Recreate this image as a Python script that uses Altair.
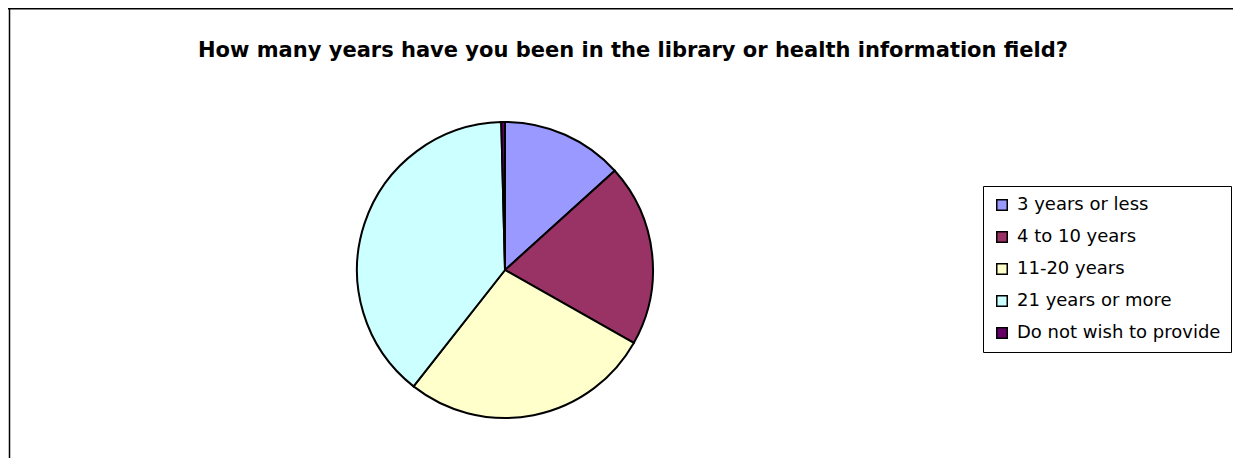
import altair as alt
import pandas as pd

TITLE = "How many years have you been in the library or health information field?"
categories = ["3 years or less", "4 to 10 years", "11-20 years", "21 years or more", "Do not wish to provide"]
shares = [13.3, 19.9, 27.4, 39.0, 0.4]
colors = ["#9999FF", "#993366", "#FFFFCC", "#CCFFFF", "#660066"]

df = pd.DataFrame({"category": categories, "share": shares, "order": list(range(len(categories)))})

W, H = 1225, 450
FONT = "DejaVu Sans"

frame_left = alt.Chart(df.head(1)).mark_rule(color="black", strokeWidth=1.5).encode(
    x=alt.value(1.5), y=alt.value(0), y2=alt.value(H)
)
frame_top = alt.Chart(df.head(1)).mark_rule(color="black", strokeWidth=1.5).encode(
    x=alt.value(0), x2=alt.value(W), y=alt.value(0.75)
)

title = alt.Chart(df.head(1)).mark_text(
    text=TITLE, font=FONT, fontSize=21, fontWeight="bold", color="black",
    align="center", baseline="alphabetic"
).encode(x=alt.value(625), y=alt.value(48.5))

pie = alt.Chart(df).mark_arc(radius=148, stroke="black", strokeWidth=2).encode(
    theta=alt.Theta("share:Q", stack=True),
    order=alt.Order("order:Q"),
    color=alt.Color(
        "category:N",
        scale=alt.Scale(domain=categories, range=colors),
        legend=alt.Legend(
            title=None, orient="none", legendX=975, legendY=178,
            symbolType="square", symbolSize=110, symbolStrokeColor="black",
            symbolStrokeWidth=1.5, symbolOpacity=1,
            labelFont=FONT, labelFontSize=18, labelColor="black", labelOffset=6,
            labelLimit=400, rowPadding=14, padding=10,
            strokeColor="black", fillColor="white",
        ),
    ),
    x=alt.value(497),
    y=alt.value(262),
)

chart = alt.layer(frame_left, frame_top, title, pie).properties(
    width=W, height=H, autosize=alt.AutoSizeParams(type="none"), padding=0,
    background="white",
).configure_view(stroke=None)

chart.save("out.html", embed_options={"renderer": "svg", "actions": False})
